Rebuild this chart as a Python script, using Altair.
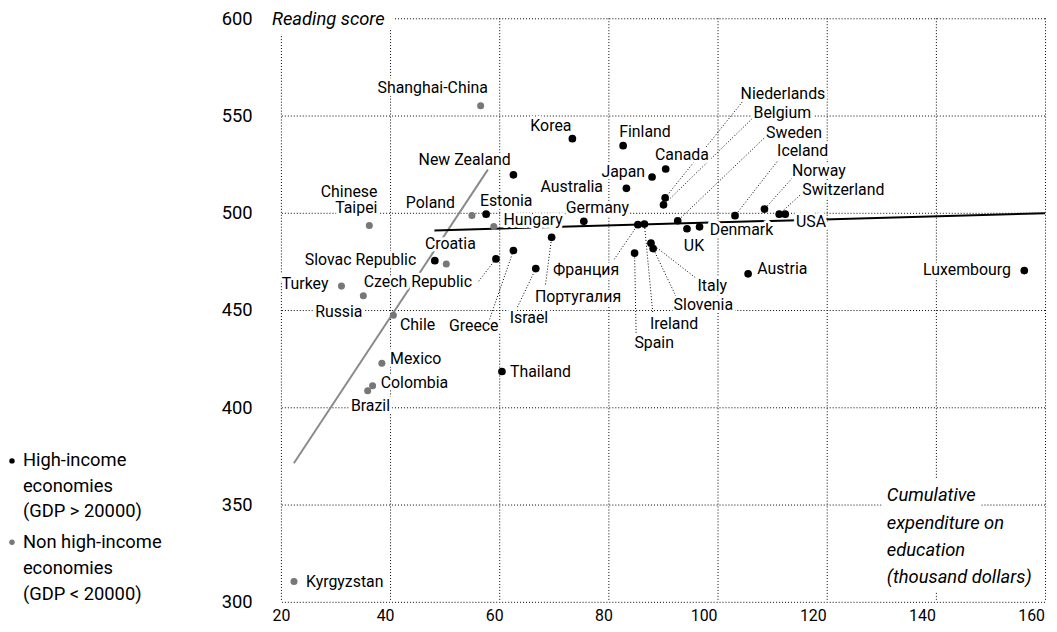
import altair as alt
import pandas as pd

# ---------------- data ----------------
HIGH = "High-income"
NON = "Non high-income"

countries = ["Shanghai-China", "Korea", "Finland", "Canada", "Japan", "Australia",
             "Niederlands", "Belgium", "Sweden", "Iceland", "Norway", "Switzerland",
             "USA", "UK", "Denmark", "Франция", "Ireland", "Spain", "Italy", "Slovenia",
             "Germany", "Португалия", "Israel", "Greece", "Czech Republic", "Thailand",
             "Hungary", "Estonia", "Poland", "New Zealand", "Slovac Republic", "Croatia",
             "Chinese Taipei", "Turkey", "Russia", "Chile", "Mexico", "Colombia", "Brazil",
             "Austria", "Luxembourg", "Kyrgyzstan"]
expenditure = [56.6, 73.4, 82.7, 90.5, 88.0, 83.3,
               90.4, 90.1, 92.7, 103.2, 108.6, 111.3,
               112.4, 94.4, 96.7, 85.4, 86.6, 84.8, 87.8, 88.2,
               75.5, 69.6, 66.7, 62.6, 59.4, 60.5,
               59.0, 57.6, 55.0, 62.6, 48.2, 50.3,
               36.2, 31.1, 35.1, 40.6, 38.5, 36.8, 35.9,
               105.6, 156.2, 22.4]
reading = [555.0, 538.1, 534.5, 522.5, 518.4, 512.6,
           507.7, 504.1, 495.9, 498.5, 501.9, 499.3,
           499.3, 491.8, 492.8, 493.9, 494.2, 479.3, 484.4, 481.6,
           495.6, 487.4, 471.3, 480.6, 476.3, 418.4,
           493.0, 499.3, 498.6, 519.5, 475.4, 473.7,
           493.5, 462.3, 457.3, 447.3, 422.7, 411.1, 408.5,
           468.6, 470.3, 310.4]
non_high = {"Shanghai-China", "Hungary", "Poland", "Croatia", "Chinese Taipei", "Turkey",
            "Russia", "Chile", "Mexico", "Colombia", "Brazil", "Kyrgyzstan"}
group = [NON if c in non_high else HIGH for c in countries]

# trend lines (end points)
trend_group = [NON, NON, HIGH, HIGH]
trend_x = [22.37, 57.92, 48.13, 160.0]
trend_y = [371.2, 522.2, 490.95, 499.8]

# point labels (annotation anchors in data units)
label_text = ["Shanghai-China", "Chinese", "Taipei", "Poland", "Slovac Republic", "Turkey",
              "Russia", "Brazil", "Czech Republic", "Greece", "Luxembourg", "Japan",
              "Australia", "Франция", "Португалия", "Germany", "New Zealand", "Korea",
              "Estonia", "Hungary", "Croatia", "Chile", "Mexico", "Colombia", "Thailand",
              "Kyrgyzstan", "Israel", "Finland", "Canada", "Niederlands", "Belgium",
              "Sweden", "Iceland", "Norway", "Switzerland", "Denmark", "USA", "UK",
              "Austria", "Italy", "Slovenia", "Ireland", "Spain"]
label_x = [57.92, 37.68, 37.68, 51.90, 44.79, 28.70,
           34.95, 40.0, 55.0, 59.87, 153.75, 86.72,
           79.01, 81.98, 82.34, 83.80, 62.11, 73.23,
           56.46, 60.78, 46.38, 41.82, 40.0, 38.28, 61.98,
           24.61, 61.93, 81.98, 88.54, 104.22, 106.59,
           108.90, 110.91, 113.64, 115.52, 98.57, 114.37, 93.83,
           107.26, 96.33, 91.95, 87.63, 84.77]
label_y = [564.2, 510.9, 502.2, 504.8, 475.6, 463.3,
           449.0, 400.9, 464.3, 441.8, 470.5, 521.2,
           513.0, 470.5, 456.7, 502.2, 527.3, 544.7,
           506.3, 496.1, 483.8, 442.3, 424.9, 412.6, 418.3,
           310.2, 445.9, 541.6, 529.9, 561.1, 551.4,
           541.1, 531.9, 521.7, 511.9, 490.95, 495.05, 482.8,
           471.0, 462.2, 452.55, 442.86, 433.16]
label_align = ["right"] * 18 + ["left"] * 25

# dotted leader lines: label end -> country point
leader_country = ["Niederlands", "Belgium", "Sweden", "Iceland", "Norway", "Switzerland",
                  "Франция", "Португалия", "Israel", "Greece", "Czech Republic", "Italy",
                  "Slovenia", "Ireland", "Spain"]
leader_x = [104.53, 106.35, 108.47, 110.91, 113.64, 115.47,
            81.07, 68.49, 63.33, 58.23, 56.22, 96.33,
            92.37, 88.12, 85.08]
leader_y = [557.0, 548.4, 538.2, 526.3, 517.7, 510.0,
            476.1, 463.2, 451.5, 445.2, 464.8, 465.8,
            457.1, 449.0, 438.3]

# axis titles placed inside the plot
title_text = ["Reading score", "Cumulative", "expenditure on", "education", "(thousand dollars)"]
title_x = [18.36, 131.01, 131.01, 131.01, 131.01]
title_y = [599.5, 354.8, 340.4, 326.6, 312.8]

x_ticks = [20, 40, 60, 80, 100, 120, 140, 160]
y_ticks = [300, 350, 400, 450, 500, 550, 600]

legend_high = "High-income\neconomies\n(GDP > 20000)"
legend_non = "Non high-income\neconomies\n(GDP < 20000)"

# ---------------- tables ----------------
pts = pd.DataFrame({"country": countries, "expenditure": expenditure,
                    "reading": reading, "group": group})
trend = pd.DataFrame({"group": trend_group, "expenditure": trend_x, "reading": trend_y})
labels = pd.DataFrame({"text": label_text, "lx": label_x, "ly": label_y, "align": label_align})
lead = pd.DataFrame({"country": leader_country, "lx": leader_x, "ly": leader_y}).merge(
    pts, on="country")
titles = pd.DataFrame({"text": title_text, "lx": title_x, "ly": title_y})
xgrid = pd.DataFrame({"v": x_ticks})
ygrid = pd.DataFrame({"v": y_ticks})

FONT = "Roboto"
LABEL_SIZE = 16
TITLE_SIZE = 18.5
INK = "#000000"

xs = alt.Scale(domain=[20, 160], nice=False, zero=False)
ys = alt.Scale(domain=[300, 600], nice=False, zero=False)

x_axis = alt.Axis(values=x_ticks, grid=False, domain=False, ticks=False, labelFont=FONT,
                  labelFontSize=16, labelColor=INK, labelPadding=6, labelFlush=False,
                  labelOffset={"condition": [{"test": "datum.value >= 100", "value": -14},
                                             {"test": "datum.value > 20", "value": -5}],
                               "value": 0},
                  title=None)
y_axis = alt.Axis(values=y_ticks, grid=False, domain=False, ticks=False, labelFont=FONT,
                  labelFontSize=18.5, labelColor=INK, labelPadding=29,
                  labelFlush=False, title=None)


def X(field):
    return alt.X(field, type="quantitative", scale=xs, axis=x_axis)


def Y(field):
    return alt.Y(field, type="quantitative", scale=ys, axis=y_axis)


grid_v = alt.Chart(xgrid).mark_rule(strokeDash=[1, 2], strokeWidth=1, color=INK,
                                    xOffset=0.5).encode(x=X("v"))
grid_h = alt.Chart(ygrid).mark_rule(strokeDash=[1, 2], strokeWidth=1, color=INK,
                                    yOffset=0.5).encode(y=Y("v"))

trend_layer = alt.Chart(trend).mark_line(strokeWidth=2).encode(
    x=X("expenditure"), y=Y("reading"),
    stroke=alt.Stroke("group:N", scale=alt.Scale(domain=[HIGH, NON],
                                                  range=["#000000", "#8a8a8a"]),
                      legend=None),
    detail="group:N")

leader_layer = alt.Chart(lead).mark_rule(strokeDash=[1, 2], strokeWidth=1,
                                         color=INK).encode(
    x=X("lx"), y=Y("ly"), x2="expenditure:Q", y2="reading:Q")


def text_layers(align):
    base = alt.Chart(labels).transform_filter(f"datum.align == '{align}'")
    halo = base.mark_text(align=align, baseline="middle", font=FONT, fontSize=LABEL_SIZE,
                          fill="white", stroke="white", strokeWidth=6,
                          strokeJoin="round").encode(x=X("lx"), y=Y("ly"), text="text:N")
    txt = base.mark_text(align=align, baseline="middle", font=FONT, fontSize=LABEL_SIZE,
                         color=INK).encode(x=X("lx"), y=Y("ly"), text="text:N")
    return halo, txt


halo_r, text_r = text_layers("right")
halo_l, text_l = text_layers("left")

title_halo = alt.Chart(titles).mark_text(
    align="left", baseline="middle", font=FONT, fontSize=TITLE_SIZE, fontStyle="italic",
    fill="white", stroke="white", strokeWidth=18, strokeJoin="round").encode(
    x=X("lx"), y=Y("ly"), text="text:N")
title_txt = alt.Chart(titles).mark_text(
    align="left", baseline="middle", font=FONT, fontSize=TITLE_SIZE, fontStyle="italic",
    color=INK).encode(x=X("lx"), y=Y("ly"), text="text:N")

point_layer = alt.Chart(pts).mark_circle(opacity=1).encode(
    x=X("expenditure"), y=Y("reading"),
    fill=alt.Fill("group:N", scale=alt.Scale(domain=[HIGH, NON],
                                              range=["#000000", "#777777"]),
                  legend=None),
    size=alt.Size("group:N", scale=alt.Scale(domain=[HIGH, NON], range=[60, 50]),
                  legend=None),
    tooltip=["country:N"])

# legend (drawn at the left of the plot)
one = pd.DataFrame({"k": [0]})
leg_dot_h = alt.Chart(one).mark_circle(size=30, opacity=1, color="#000000").encode(
    x=alt.value(-271), y=alt.value(446))
leg_dot_n = alt.Chart(one).mark_circle(size=30, opacity=1, color="#777777").encode(
    x=alt.value(-271), y=alt.value(528))
leg_txt_h = alt.Chart(one).mark_text(align="left", baseline="alphabetic", font=FONT,
                                     fontSize=18.5, lineBreak="\n", lineHeight=26,
                                     color=INK).encode(
    x=alt.value(-260), y=alt.value(451), text=alt.value(legend_high))
leg_txt_n = alt.Chart(one).mark_text(align="left", baseline="alphabetic", font=FONT,
                                     fontSize=18.5, lineBreak="\n", lineHeight=26,
                                     color=INK).encode(
    x=alt.value(-260), y=alt.value(534), text=alt.value(legend_non))

chart = alt.layer(
    grid_v, grid_h, trend_layer, leader_layer, halo_r, halo_l, title_halo,
    text_r, text_l, title_txt, point_layer,
    leg_dot_h, leg_dot_n, leg_txt_h, leg_txt_n
).resolve_scale(
    stroke="independent", fill="independent", size="independent"
).properties(
    width=770, height=588,
    autosize=alt.AutoSizeParams(type="none"),
    padding={"left": 275, "top": 8, "right": 4, "bottom": 20},
    background="white"
).configure_view(stroke=None)

chart.save("out.html", embed_options={"renderer": "svg", "actions": False})
